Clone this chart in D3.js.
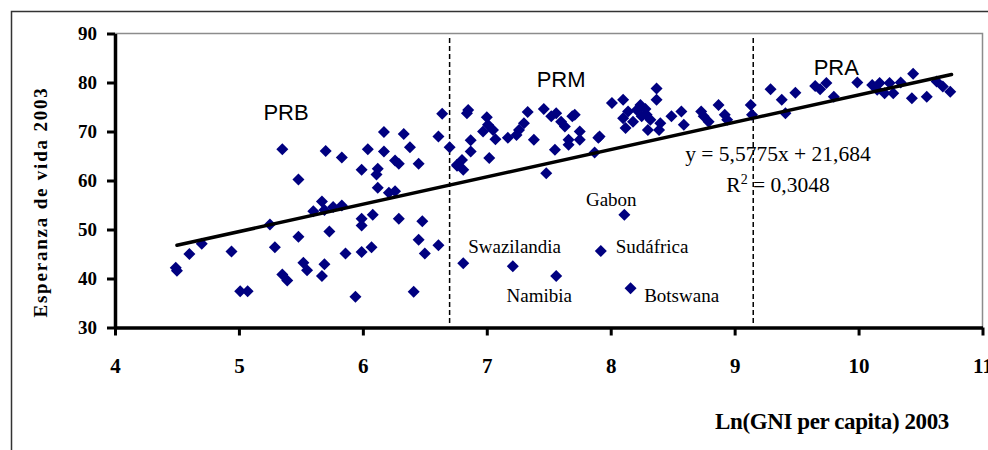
<!DOCTYPE html>
<html>
<head>
<meta charset="utf-8">
<script src="https://cdn.jsdelivr.net/npm/d3@7/dist/d3.min.js"></script>
<style>
  html, body { margin: 0; padding: 0; background: #fff; }
  svg { display: block; }
</style>
</head>
<body>
<svg id="chart" width="988" height="450"></svg>
<script>
// Ln(GNI per capita) 2003 and life expectancy 2003, one entry per country
const lnGni = [
  4.49, 4.50, 4.60, 4.70, 4.94, 5.01, 5.07, 5.25, 5.29, 5.35, 5.48, 5.35, 5.39, 5.48, 5.52, 5.55,
  5.60, 5.67, 5.67, 5.69, 5.69, 5.76, 5.83, 5.70, 5.83, 5.73, 5.86, 5.94, 5.99, 6.04, 6.17, 6.17,
  6.33, 6.38, 6.12, 6.11, 6.12, 6.26, 6.29, 6.45, 6.21, 6.26, 5.99, 5.99, 6.08, 6.29, 6.48, 6.45,
  6.50, 6.61, 5.99, 6.07, 6.41, 6.64, 6.61, 6.70,
  6.76, 6.85, 6.84, 6.87, 6.87, 6.80, 6.76, 6.81, 7.00, 7.01, 6.97, 7.05, 7.07, 7.02, 7.17, 7.24,
  7.26, 7.30, 7.33, 7.38, 7.46, 7.55, 7.52, 7.56, 7.60, 7.63, 7.69, 7.71, 7.75, 7.66, 7.66, 7.75,
  7.90, 7.91, 7.87, 8.01, 8.10, 8.14, 8.10, 8.24, 8.21, 8.28, 8.29, 8.25, 8.32, 8.12, 8.18, 8.37,
  8.37, 8.30, 8.40, 8.39, 8.49, 8.57, 8.59, 8.73, 8.75, 8.79, 8.87, 8.92, 8.94, 9.13, 9.14,
  7.48, 8.11, 7.92, 6.81, 7.21, 7.56, 8.16,
  9.29, 9.38, 9.41, 9.49, 9.65, 9.69, 9.74, 9.80, 9.99, 10.11, 10.15, 10.17, 10.21, 10.25, 10.28,
  10.34, 10.44, 10.43, 10.55, 10.63, 10.68, 10.74
];
const lifeExp = [
  42.2, 41.6, 45.0, 47.1, 45.5, 37.4, 37.4, 51.0, 46.4, 66.4, 60.2, 40.8, 39.6, 48.5, 43.2, 41.7,
  53.7, 55.7, 40.5, 54.0, 42.9, 54.6, 54.9, 66.0, 64.7, 49.6, 45.1, 36.3, 62.2, 66.4, 69.9, 65.9,
  69.5, 66.8, 62.4, 61.2, 58.5, 64.1, 63.4, 63.4, 57.5, 57.8, 52.2, 50.8, 53.0, 52.2, 51.7, 47.9,
  45.1, 46.8, 45.4, 46.4, 37.3, 73.6, 69.0, 66.8,
  63.0, 74.4, 73.7, 68.2, 65.9, 64.2, 63.2, 62.2, 72.9, 71.4, 70.0, 70.3, 68.4, 64.6, 68.7, 69.3,
  70.3, 71.7, 74.0, 68.3, 74.6, 66.3, 73.1, 73.7, 72.0, 71.0, 73.1, 73.4, 70.0, 68.3, 67.3, 68.3,
  68.7, 69.0, 65.7, 75.8, 76.5, 74.1, 72.7, 75.4, 74.4, 74.6, 73.4, 73.1, 72.4, 70.7, 72.0, 78.8,
  76.5, 70.3, 71.7, 70.3, 73.1, 74.1, 71.4, 74.1, 73.1, 72.0, 75.4, 73.4, 72.4, 75.4, 73.4,
  61.5, 53.0, 45.6, 43.1, 42.5, 40.5, 38.0,
  78.6, 76.5, 73.7, 77.9, 79.3, 78.6, 79.9, 77.1, 80.0, 79.5, 78.5, 79.9, 77.8, 79.9, 77.8,
  80.0, 81.8, 76.8, 77.1, 80.2, 79.2, 78.1
];

// Named outliers
const countryNames = ["Gabon", "Swazilandia", "Sudáfrica", "Namibia", "Botswana"];
const countryLabelX = [7.80, 6.85, 8.04, 7.16, 8.27];
const countryLabelY = [54.8, 45.2, 45.2, 35.3, 35.2];

// Income groups and their thresholds
const groupNames = ["PRB", "PRM", "PRA"];
const groupLabelX = [5.38, 7.60, 9.82];
const groupLabelY = [72.3, 79.0, 81.5];
const groupThresholds = [6.70, 9.15];

// Linear trend
const trendSlope = 5.5775;
const trendIntercept = 21.684;
const trendRange = [4.5, 10.75];
const rSquared = "0,3048";

const xTicks = [4, 5, 6, 7, 8, 9, 10, 11];
const yTicks = [30, 40, 50, 60, 70, 80, 90];

const svg = d3.select("#chart");
const serif = "'Liberation Serif', 'Times New Roman', serif";
const sans = "'Liberation Sans', Arial, sans-serif";

const x = d3.scaleLinear().domain([4, 11]).range([115, 982.5]);
const y = d3.scaleLinear().domain([30, 90]).range([327.5, 33.5]);

// outer frame
svg.append("path")
  .attr("d", "M11.5,450 V11.5 H988")
  .attr("fill", "none").attr("stroke", "#333").attr("stroke-width", 1.5);

// plot frame (top and right)
svg.append("path")
  .attr("d", `M${x(4)},${y(90)} H${x(11)} V${y(30)}`)
  .attr("fill", "none").attr("stroke", "#8c8c8c").attr("stroke-width", 1.5);

// group thresholds
svg.append("g").selectAll("line").data(groupThresholds).join("line")
  .attr("x1", d => x(d)).attr("x2", d => x(d))
  .attr("y1", 38).attr("y2", 323)
  .attr("stroke", "#000").attr("stroke-width", 1.5)
  .attr("stroke-dasharray", "5,3");

// axes
const xAxis = svg.append("g")
  .attr("transform", `translate(0,${y(30)})`)
  .call(d3.axisBottom(x).tickValues(xTicks).tickFormat(d3.format("d"))
    .tickSize(8).tickSizeOuter(0).tickPadding(23));
const yAxis = svg.append("g")
  .attr("transform", `translate(${x(4)},0)`)
  .call(d3.axisLeft(y).tickValues(yTicks).tickFormat(d3.format("d"))
    .tickSize(8).tickSizeOuter(0).tickPadding(10));

[xAxis, yAxis].forEach(g => {
  g.select(".domain").attr("stroke", "#000").attr("stroke-width", 3.5);
  g.selectAll(".tick line").attr("stroke", "#000").attr("stroke-width", 3);
  g.selectAll(".tick text")
    .attr("fill", "#000")
    .style("font-family", serif)
    .style("font-weight", "bold");
});
xAxis.selectAll(".tick text").style("font-size", "21px");
yAxis.selectAll(".tick text").style("font-size", "19px");

// axis titles
svg.append("text")
  .attr("x", 832).attr("y", 429)
  .attr("text-anchor", "middle")
  .style("font-family", serif).style("font-weight", "bold").style("font-size", "23px")
  .style("letter-spacing", "-0.4px")
  .text("Ln(GNI per capita) 2003");

svg.append("text")
  .attr("transform", "translate(47,202) rotate(-90)")
  .attr("text-anchor", "middle")
  .style("font-family", serif).style("font-weight", "bold").style("font-size", "19px")
  .style("letter-spacing", "1.8px")
  .text("Esperanza de vida 2003");

// points
const points = lnGni.map((v, i) => [v, lifeExp[i]]);
const diamond = d3.symbol().type(d3.symbolSquare).size(72);
svg.append("g").selectAll("path").data(points).join("path")
  .attr("d", diamond)
  .attr("transform", d => `translate(${x(d[0])},${y(d[1])}) rotate(45)`)
  .attr("fill", "#000080");

// trend line
const trendLine = d3.line().x(d => x(d)).y(d => y(trendSlope * d + trendIntercept));
svg.append("path")
  .attr("d", trendLine(trendRange))
  .attr("fill", "none").attr("stroke", "#000").attr("stroke-width", 3.5)
  .attr("stroke-linecap", "round");

// group labels
svg.append("g").selectAll("text").data(groupNames).join("text")
  .attr("x", (d, i) => x(groupLabelX[i]))
  .attr("y", (d, i) => y(groupLabelY[i]))
  .attr("text-anchor", "middle")
  .style("font-family", sans).style("font-size", "22px")
  .text(d => d);

// country labels
svg.append("g").selectAll("text").data(countryNames).join("text")
  .attr("x", (d, i) => x(countryLabelX[i]))
  .attr("y", (d, i) => y(countryLabelY[i]))
  .attr("text-anchor", "start")
  .style("font-family", serif).style("font-size", "19px")
  .text(d => d);

// trend equation
const eq = svg.append("g").style("font-family", serif).style("font-size", "21.5px");
eq.append("text")
  .attr("x", 778).attr("y", 161).attr("text-anchor", "middle")
  .text(`y = ${String(trendSlope).replace(".", ",")}x + ${String(trendIntercept).replace(".", ",")}`);
const r2 = eq.append("text")
  .attr("x", 778).attr("y", 192).attr("text-anchor", "middle");
r2.append("tspan").text("R");
r2.append("tspan").attr("dy", -8).style("font-size", "14px").text("2");
r2.append("tspan").attr("dy", 8).text(` = ${rSquared}`);
</script>
</body>
</html>
